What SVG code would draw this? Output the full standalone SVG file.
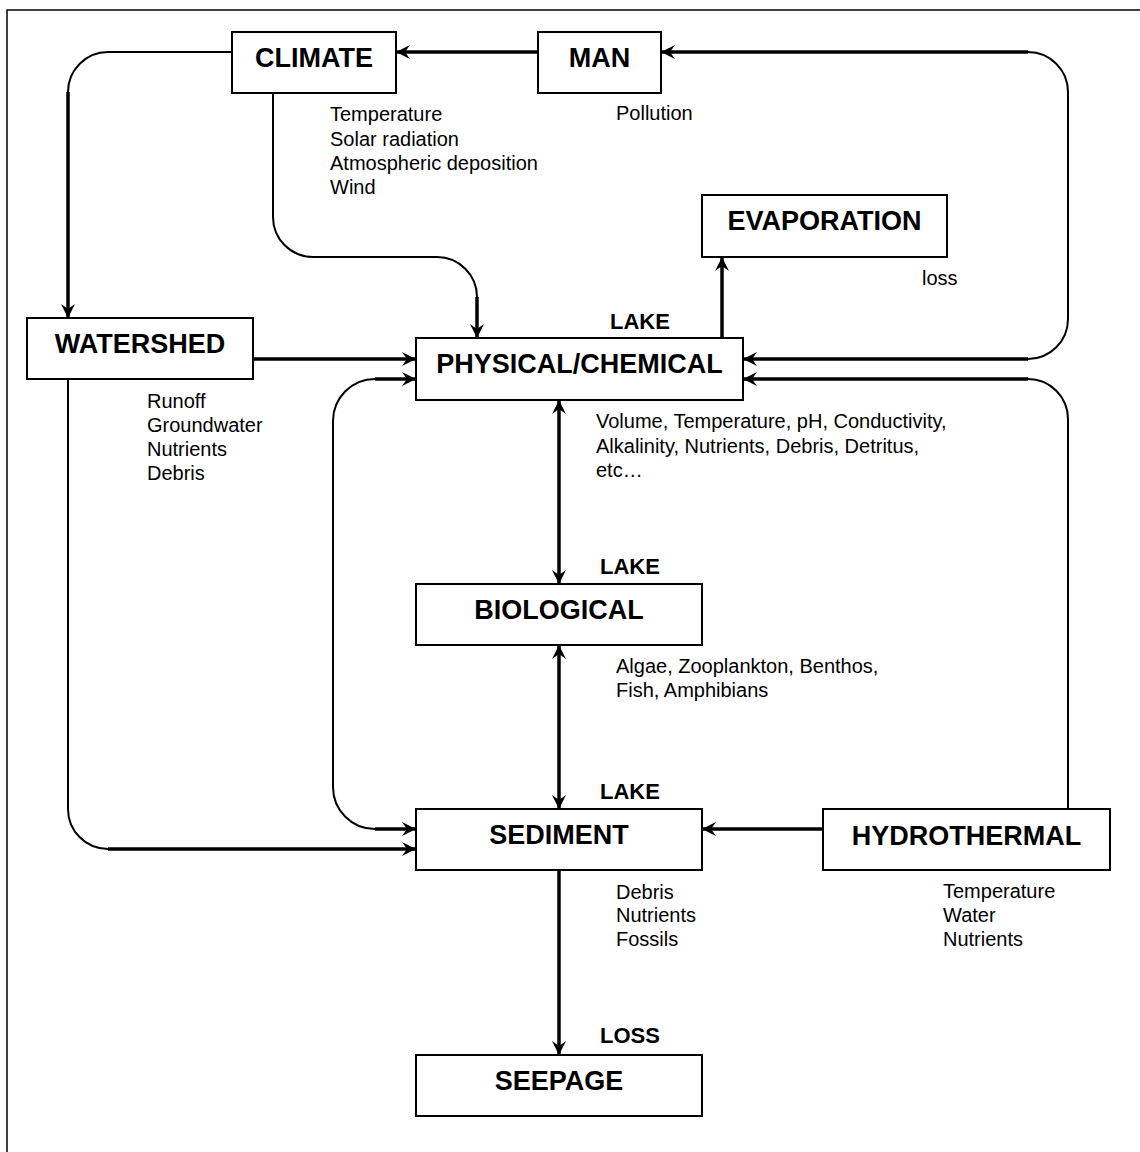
<svg xmlns="http://www.w3.org/2000/svg" width="1140" height="1152" viewBox="0 0 1140 1152">
<style>
.box{fill:#fff;stroke:#000;stroke-width:2}
.t{font-family:"Liberation Sans",Arial,sans-serif;font-weight:bold;font-size:27px;text-anchor:middle;fill:#000}
.s{font-family:"Liberation Sans",Arial,sans-serif;font-size:20px;fill:#000}
.b{font-family:"Liberation Sans",Arial,sans-serif;font-weight:bold;font-size:22px;fill:#000}
.thin{fill:none;stroke:#000;stroke-width:2}
.thick{fill:none;stroke:#000;stroke-width:3.5}
.arr{marker-end:url(#ah)}
.arr2{marker-start:url(#ah);marker-end:url(#ah)}
</style>
<defs>
<marker id="ah" viewBox="-15 -8 16 16" refX="0" refY="0" markerWidth="16" markerHeight="16" markerUnits="userSpaceOnUse" orient="auto-start-reverse">
<path d="M0,0 L-14,-7 L-9,0 L-14,7 Z" fill="#000"/>
</marker>
</defs>
<rect x="0" y="0" width="1140" height="1152" fill="#fff"/>
<rect x="7" y="10" width="1200" height="1200" fill="none" stroke="#000" stroke-width="1.5"/>
<g id="connectors">
<path class="thick arr" d="M538,52 L396,52"/>
<path class="thick" d="M743,359 L1028,359" marker-start="url(#ah)"/>
<path class="thin" d="M1028,359 A40,40 0 0 0 1068,319 L1068,92 A40,40 0 0 0 1028,52"/>
<path class="thick arr" d="M1028,52 L661,52"/>
<path class="thin" d="M232,52 L108,52 A40,40 0 0 0 68,92"/>
<path class="thick arr" d="M68,92 L68,318"/>
<path class="thin" d="M273,93 L273,217 A40,40 0 0 0 313,257 L437,257 A40,40 0 0 1 477,297"/>
<path class="thick arr" d="M477,297 L477,338"/>
<path class="thick arr" d="M253,359 L416,359"/>
<path class="thin" d="M68,379 L68,809 A40,40 0 0 0 108,849"/>
<path class="thick arr" d="M108,849 L416,849"/>
<path class="thin" d="M375,379 A42,42 0 0 0 333,421 L333,787 A42,42 0 0 0 375,829"/>
<path class="thick arr" d="M375,379 L416,379"/>
<path class="thick arr" d="M375,829 L416,829"/>
<path class="thick arr" d="M722,338 L722,257"/>
<path class="thick arr2" d="M559,400 L559,584"/>
<path class="thick arr2" d="M559,645 L559,809"/>
<path class="thick arr" d="M559,870 L559,1055"/>
<path class="thick arr" d="M823,829 L702,829"/>
<path class="thin" d="M1068,809 L1068,419 A40,40 0 0 0 1028,379"/>
<path class="thick arr" d="M1028,379 L743,379"/>
</g>
<g id="climate">
<rect class="box" x="232" y="32" width="164" height="61"/>
<text class="t" x="314" y="67">CLIMATE</text>
<text class="s" x="330" y="121">Temperature</text>
<text class="s" x="330" y="145.5">Solar radiation</text>
<text class="s" x="330" y="170">Atmospheric deposition</text>
<text class="s" x="330" y="194">Wind</text>
</g>
<g id="man">
<rect class="box" x="538" y="32" width="123" height="61"/>
<text class="t" x="599.5" y="67">MAN</text>
<text class="s" x="616" y="120">Pollution</text>
</g>
<g id="evaporation">
<rect class="box" x="702" y="195" width="245" height="62"/>
<text class="t" x="824.5" y="230">EVAPORATION</text>
<text class="s" x="922" y="285">loss</text>
</g>
<g id="watershed">
<rect class="box" x="27" y="318" width="226" height="61"/>
<text class="t" x="140" y="353">WATERSHED</text>
<text class="s" x="147" y="408">Runoff</text>
<text class="s" x="147" y="432">Groundwater</text>
<text class="s" x="147" y="456">Nutrients</text>
<text class="s" x="147" y="480">Debris</text>
</g>
<g id="physical-chemical">
<text class="b" x="610" y="329">LAKE</text>
<rect class="box" x="416" y="338" width="327" height="62"/>
<text class="t" x="579.5" y="373">PHYSICAL/CHEMICAL</text>
<text class="s" x="596" y="428">Volume, Temperature, pH, Conductivity,</text>
<text class="s" x="596" y="453">Alkalinity, Nutrients, Debris, Detritus,</text>
<text class="s" x="596" y="477">etc…</text>
</g>
<g id="biological">
<text class="b" x="600" y="574">LAKE</text>
<rect class="box" x="416" y="584" width="286" height="61"/>
<text class="t" x="559" y="619">BIOLOGICAL</text>
<text class="s" x="616" y="673">Algae, Zooplankton, Benthos,</text>
<text class="s" x="616" y="697">Fish, Amphibians</text>
</g>
<g id="sediment">
<text class="b" x="600" y="799">LAKE</text>
<rect class="box" x="416" y="809" width="286" height="61"/>
<text class="t" x="559" y="844">SEDIMENT</text>
<text class="s" x="616" y="899">Debris</text>
<text class="s" x="616" y="922">Nutrients</text>
<text class="s" x="616" y="946">Fossils</text>
</g>
<g id="hydrothermal">
<rect class="box" x="823" y="809" width="287" height="61"/>
<text class="t" x="966.5" y="845">HYDROTHERMAL</text>
<text class="s" x="943" y="898">Temperature</text>
<text class="s" x="943" y="922">Water</text>
<text class="s" x="943" y="946">Nutrients</text>
</g>
<g id="seepage">
<text class="b" x="600" y="1043">LOSS</text>
<rect class="box" x="416" y="1055" width="286" height="61"/>
<text class="t" x="559" y="1090">SEEPAGE</text>
</g>
</svg>
